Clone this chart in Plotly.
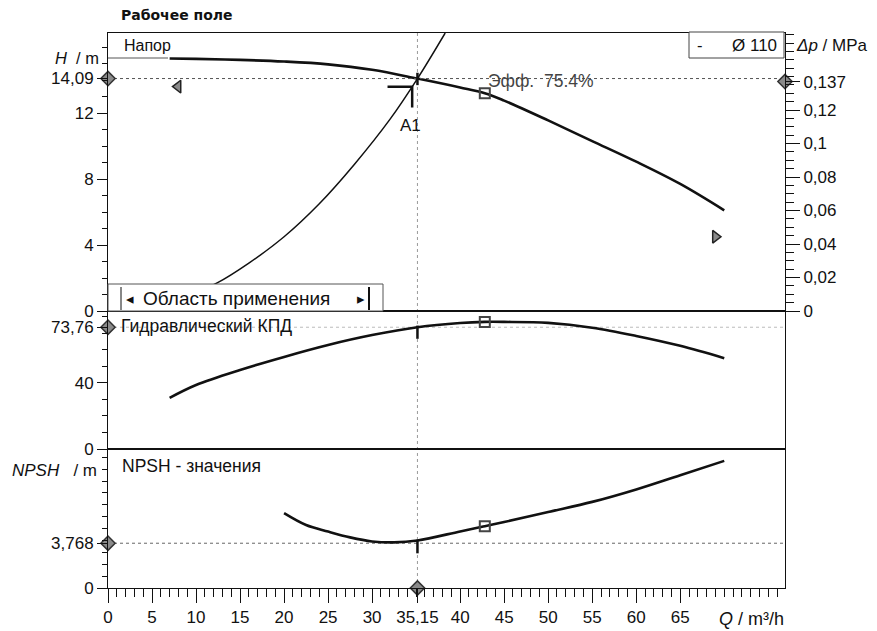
import plotly.graph_objects as go

# ---------------- data ----------------
q_head = [7, 10, 15, 20, 25, 30, 35.15, 40, 42.8, 45, 50, 55, 60, 65, 70]
head = [15.3, 15.28, 15.22, 15.12, 14.95, 14.62, 14.09, 13.55, 13.2, 12.75, 11.55, 10.3, 9.05, 7.7, 6.1]

q_sys = [10, 12.4, 16, 20, 24, 28, 32, 35.15, 38.3]
h_sys = [1.15, 1.7, 2.9, 4.5, 6.5, 8.9, 11.6, 14.09, 16.85]

q_eff = [7, 10, 15, 20, 25, 30, 35.15, 40, 42.8, 45, 50, 55, 60, 65, 70]
eff = [31, 38.8, 47.9, 55.8, 63, 69, 73.76, 76.3, 77, 77, 76.4, 73.5, 68.5, 62.5, 55]

q_npsh = [20, 22.5, 25, 27.5, 30, 32.5, 35.15, 40, 42.8, 45, 50, 55, 60, 65, 70]
npsh = [6.3, 5.3, 4.75, 4.26, 3.92, 3.84, 4.0, 4.76, 5.2, 5.55, 6.4, 7.25, 8.3, 9.5, 10.7]

q_op, h_op, eta_op, npsh_op, dp_op = 35.15, 14.09, 73.76, 3.768, 0.137
q_bep, h_bep, eta_bep, npsh_bep = 42.8, 13.2, 77.0, 5.2
q_limits = [7.95, 69.0]
h_limits = [13.6, 4.5]

x_ticks = [0, 5, 10, 15, 20, 25, 30, 35.15, 40, 45, 50, 55, 60, 65]
x_text = ["0", "5", "10", "15", "20", "25", "30", "35,15", "40", "45", "50", "55", "60", "65"]
h_ticks = [0, 4, 8, 12, 14.09]
h_text = ["0", "4", "8", "12", "14,09"]
dp_ticks = [0, 0.02, 0.04, 0.06, 0.08, 0.1, 0.12, 0.137]
dp_text = ["0", "0,02", "0,04", "0,06", "0,08", "0,1", "0,12", "0,137"]
eta_ticks = [0, 40, 73.76]
eta_text = ["0", "40", "73,76"]
npsh_ticks = [0, 3.768]
npsh_text = ["0", "3,768"]

x_max, h_max, dp_max, eta_max, npsh_max = 76.9, 16.85, 0.1660, 83.6, 11.7

# ---------------- layout helpers ----------------
W, HP = 877, 631
L, R, T, B = 108, 92, 33, 43
def pxx(x):
    return (x - L) / (W - L - R)
def pxy(y):
    return (HP - B - y) / (HP - T - B)

FONT = "Liberation Sans, Arial, sans-serif"
BLACK = "#111111"
GREY = "#8a8a8a"

fig = go.Figure()

# --- top panel: head & system curve
fig.add_trace(go.Scatter(x=q_sys, y=h_sys, mode="lines", line=dict(color=BLACK, width=1.5, shape="spline"),
                         xaxis="x3", yaxis="y", hoverinfo="skip"))
fig.add_trace(go.Scatter(x=q_head, y=head, mode="lines", line=dict(color=BLACK, width=2.6, shape="spline"),
                         xaxis="x3", yaxis="y", hoverinfo="skip"))
fig.add_trace(go.Scatter(x=[0, x_max], y=[h_op, h_op], mode="lines", line=dict(color="#555", width=1, dash="dot"),
                         xaxis="x3", yaxis="y", hoverinfo="skip"))
fig.add_trace(go.Scatter(x=[q_bep], y=[h_bep], mode="markers",
                         marker=dict(symbol="square-open", size=10, color="#444", line=dict(width=2)),
                         xaxis="x3", yaxis="y"))
fig.add_trace(go.Scatter(x=q_limits[:1], y=h_limits[:1], mode="markers",
                         marker=dict(symbol="triangle-left", size=11, color=GREY, line=dict(color="#222", width=1.5)),
                         xaxis="x3", yaxis="y"))
fig.add_trace(go.Scatter(x=q_limits[1:], y=h_limits[1:], mode="markers",
                         marker=dict(symbol="triangle-right", size=11, color=GREY, line=dict(color="#222", width=1.5)),
                         xaxis="x3", yaxis="y"))
# operating point A1 marks
fig.add_trace(go.Scatter(x=[q_op, q_op, None, q_op - 3.4, q_op - 0.6, q_op - 0.6],
                         y=[h_op + 0.35, h_op - 0.4, None, h_op - 0.5, h_op - 0.5, h_op - 1.75],
                         mode="lines", line=dict(color=BLACK, width=2.5), xaxis="x3", yaxis="y", hoverinfo="skip"))
fig.add_trace(go.Scatter(x=[0], y=[h_op], mode="markers", cliponaxis=False,
                         marker=dict(symbol="diamond", size=11, color=GREY, line=dict(color="#333", width=1.5)),
                         xaxis="x3", yaxis="y"))
fig.add_trace(go.Scatter(x=[x_max], y=[dp_op], mode="markers", cliponaxis=False,
                         marker=dict(symbol="diamond", size=11, color=GREY, line=dict(color="#333", width=1.5)),
                         xaxis="x3", yaxis="y2"))

# --- middle panel: efficiency
fig.add_trace(go.Scatter(x=[0, x_max], y=[eta_op, eta_op], mode="lines", line=dict(color="#bbb", width=1, dash="dot"),
                         xaxis="x2", yaxis="y3", hoverinfo="skip"))
fig.add_trace(go.Scatter(x=q_eff, y=eff, mode="lines", line=dict(color=BLACK, width=2.6, shape="spline"),
                         xaxis="x2", yaxis="y3", hoverinfo="skip"))
fig.add_trace(go.Scatter(x=[q_bep], y=[eta_bep], mode="markers",
                         marker=dict(symbol="square-open", size=10, color="#444", line=dict(width=2)),
                         xaxis="x2", yaxis="y3"))
fig.add_trace(go.Scatter(x=[q_op, q_op], y=[eta_op + 1, eta_op - 7], mode="lines",
                         line=dict(color=BLACK, width=2.5), xaxis="x2", yaxis="y3", hoverinfo="skip"))
fig.add_trace(go.Scatter(x=[0], y=[eta_op], mode="markers", cliponaxis=False,
                         marker=dict(symbol="diamond", size=11, color=GREY, line=dict(color="#333", width=1.5)),
                         xaxis="x2", yaxis="y3"))

# --- bottom panel: NPSH
fig.add_trace(go.Scatter(x=[0, x_max], y=[npsh_op, npsh_op], mode="lines", line=dict(color="#666", width=1, dash="dot"),
                         xaxis="x", yaxis="y4", hoverinfo="skip"))
fig.add_trace(go.Scatter(x=q_npsh, y=npsh, mode="lines", line=dict(color=BLACK, width=2.6, shape="spline"),
                         xaxis="x", yaxis="y4", hoverinfo="skip"))
fig.add_trace(go.Scatter(x=[q_bep], y=[npsh_bep], mode="markers",
                         marker=dict(symbol="square-open", size=10, color="#444", line=dict(width=2)),
                         xaxis="x", yaxis="y4"))
fig.add_trace(go.Scatter(x=[q_op, q_op], y=[npsh_op + 0.3, npsh_op - 0.85], mode="lines",
                         line=dict(color=BLACK, width=2.5), xaxis="x", yaxis="y4", hoverinfo="skip"))
fig.add_trace(go.Scatter(x=[0, q_op], y=[npsh_op, 0], mode="markers", cliponaxis=False,
                         marker=dict(symbol="diamond", size=11, color=GREY, line=dict(color="#333", width=1.5)),
                         xaxis="x", yaxis="y4"))

# ---------------- axes ----------------
tickfont = dict(family=FONT, size=17, color=BLACK)
d_top = [pxy(311), 1]
d_mid = [pxy(449), pxy(311)]
d_bot = [0, pxy(449)]

common_x = dict(range=[0, x_max], showgrid=False, zeroline=False, showline=True, linecolor=BLACK,
                linewidth=1, mirror=True, automargin=False)
common_y = dict(showgrid=False, zeroline=False, showline=True, linecolor=BLACK, linewidth=1,
                ticks="outside", ticklen=10, tickcolor=BLACK, tickfont=tickfont, tickmode="array",
                automargin=False)

fig.update_layout(
    width=W, height=HP,
    margin=dict(l=L, r=R, t=T, b=B, autoexpand=False),
    paper_bgcolor="white", plot_bgcolor="white",
    showlegend=False,
    font=dict(family=FONT, color=BLACK),
    xaxis=dict(**common_x, domain=[0, 1], anchor="y4", tickmode="array", tickvals=x_ticks, ticktext=x_text,
               ticks="outside", ticklen=14, tickcolor=BLACK, tickfont=tickfont,
               minor=dict(ticks="outside", ticklen=8, tickmode="linear", tick0=0, dtick=1, tickcolor=BLACK)),
    xaxis2=dict(**common_x, domain=[0, 1], anchor="y3", matches="x", showticklabels=False, ticks=""),
    xaxis3=dict(**common_x, domain=[0, 1], anchor="y", matches="x", showticklabels=False, ticks=""),
    yaxis=dict(**common_y, domain=d_top, anchor="x3", range=[0, h_max], tickvals=h_ticks, ticktext=h_text,
               minor=dict(ticks="outside", ticklen=5, tickmode="linear", tick0=0, dtick=1, tickcolor=BLACK)),
    yaxis2=dict(**{**common_y, "ticklen": 14}, overlaying="y", side="right", anchor="x3", range=[0, dp_max],
                tickvals=dp_ticks, ticktext=dp_text,
                minor=dict(ticks="outside", ticklen=8, tickmode="linear", tick0=0, dtick=0.005, tickcolor=BLACK)),
    yaxis3=dict(**common_y, domain=d_mid, anchor="x2", range=[0, eta_max], tickvals=eta_ticks, ticktext=eta_text,
                mirror=True,
                minor=dict(ticks="outside", ticklen=5, tickmode="linear", tick0=0, dtick=10, tickcolor=BLACK)),
    yaxis4=dict(**common_y, domain=d_bot, anchor="x", range=[0, npsh_max], tickvals=npsh_ticks, ticktext=npsh_text,
                mirror=True,
                minor=dict(ticks="outside", ticklen=5, tickmode="linear", tick0=0, dtick=1, tickcolor=BLACK)),
)

# ---------------- shapes ----------------
shapes = [
    # vertical dotted line at operating flow
    dict(type="line", xref="x", yref="paper", x0=q_op, x1=q_op, y0=0, y1=1,
         line=dict(color="#999", width=1, dash="dot"), layer="below"),
    # "Напор" box underline
    dict(type="line", xref="paper", yref="paper", x0=pxx(108), x1=pxx(168), y0=pxy(58), y1=pxy(58),
         line=dict(color="#555", width=1)),
    # "Ø 110" box
    dict(type="rect", xref="paper", yref="paper", x0=pxx(689), x1=pxx(784), y0=pxy(58), y1=pxy(32),
         line=dict(color="#444", width=1), fillcolor="white", layer="above"),
    # "Область применения" box
    dict(type="rect", xref="paper", yref="paper", x0=pxx(108), x1=pxx(383), y0=pxy(311), y1=pxy(284),
         line=dict(color="#555", width=1), fillcolor="white", layer="above"),
    dict(type="line", xref="paper", yref="paper", x0=pxx(369), x1=pxx(369), y0=pxy(310), y1=pxy(287),
         line=dict(color=BLACK, width=2), layer="above"),
    dict(type="line", xref="paper", yref="paper", x0=pxx(121), x1=pxx(121), y0=pxy(310), y1=pxy(287),
         line=dict(color=BLACK, width=1), layer="above"),
]
fig.update_layout(shapes=shapes)

# ---------------- text ----------------
def ann(text, x, y, size=15, xanchor="left", color=BLACK, family=FONT, **kw):
    fig.add_annotation(text=text, xref="paper", yref="paper", x=x, y=y, xanchor=xanchor, yanchor="middle",
                       showarrow=False, font=dict(size=size, color=color, family=family), **kw)

ann("<b>Рабочее поле</b>", pxx(119), pxy(15), size=14, family="DejaVu Sans, Verdana, sans-serif")
ann("<i>H</i>  / m", pxx(101), pxy(58), size=16.5, xanchor="right")
ann("<i>Δp</i> / MPa", pxx(794), pxy(46), size=17)
ann("Напор", pxx(122), pxy(46), size=16)
ann("-", pxx(695), pxy(45), size=16.5)
ann("Ø 110", pxx(779), pxy(45), size=17, xanchor="right")
ann("◂", pxx(124), pxy(298), size=15)
ann("Область применения", pxx(141), pxy(298), size=19)
ann("▸", pxx(355), pxy(298), size=15)
ann("Гидравлический КПД", pxx(119), pxy(326), size=17.5)
ann("NPSH - значения", pxx(120), pxy(466), size=17.5)
ann("<i>NPSH</i>   / m", pxx(99), pxy(470), size=17, xanchor="right")
ann("<i>Q</i> / m³/h", pxx(786), pxy(619), size=18, xanchor="right")

fig.add_annotation(text="Эфф.  75.4%", xref="x3", yref="y", x=q_bep, y=h_bep, xanchor="left", yanchor="middle",
                   xshift=1, yshift=12, showarrow=False, font=dict(size=17.5, color="#444", family=FONT))
fig.add_annotation(text="A1", xref="x3", yref="y", x=q_op, y=h_op, xanchor="center", yanchor="middle",
                   xshift=-7, yshift=-47, showarrow=False, font=dict(size=17, color=BLACK, family=FONT))

fig.write_html("out.html", config={"displayModeBar": False},
               post_script="document.body.style.margin='0';document.body.style.padding='0';")
